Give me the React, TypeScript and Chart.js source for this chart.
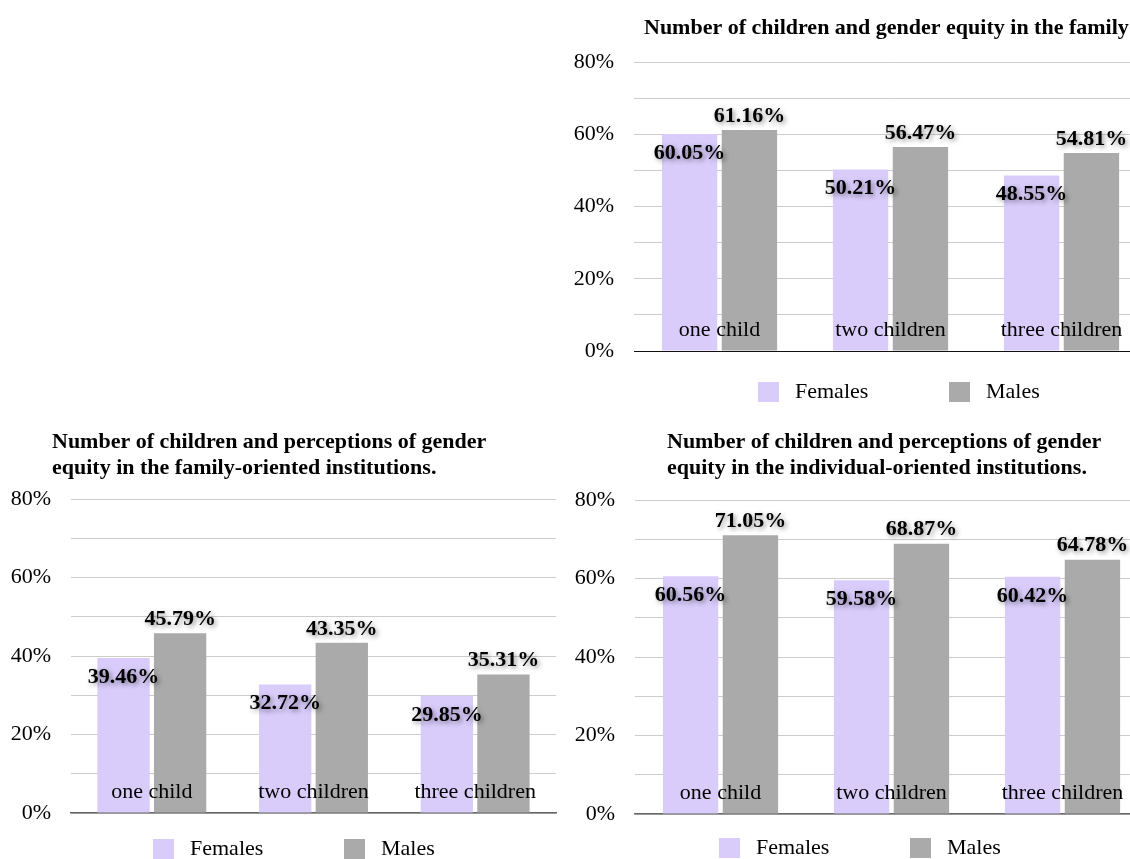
import React, { useEffect, useRef } from "react";
import { Chart, registerables } from "chart.js";

Chart.register(...registerables);

// ---------- data ----------
const categories = ["one child", "two children", "three children"];
const seriesNames = ["Females", "Males"];

const familyFemales = [60.05, 50.21, 48.55];
const familyMales = [61.16, 56.47, 54.81];

const familyInstFemales = [39.46, 32.72, 29.85];
const familyInstMales = [45.79, 43.35, 35.31];

const indivInstFemales = [60.56, 59.58, 60.42];
const indivInstMales = [71.05, 68.87, 64.78];

const yMax = 80;
const yStep = 10;
const yLabelEvery = 20;

const titleFamily = ["Number of children and gender equity in the family"];
const titleFamilyInst = [
  "Number of children and perceptions of gender",
  "equity in the family-oriented institutions.",
];
const titleIndivInst = [
  "Number of children and perceptions of gender",
  "equity in the individual-oriented institutions.",
];

// ---------- style ----------
const FONT = "'Liberation Serif', 'Times New Roman', Times, serif";
const FEMALE_COLOR = "#d9ccfb";
const MALE_COLOR = "#aaaaaa";
const GRID_COLOR = "#cccccc";

type PanelSpec = {
  left: number;
  top: number;
  width: number;
  height: number;
  titleLines: string[];
  titleX: number;
  titleY: number;
  females: number[];
  males: number[];
  axisWidth: number;
  padTop: number;
  padRight: number;
  padBottom: number;
  baseColor: string;
  baseWidth: number;
  legendX: number;
  legendY: number;
};

const decorPlugin = {
  id: "sheetDecor",
  afterDatasetsDraw(chart: any, _args: any, opts: any) {
    const ctx = chart.ctx;
    chart.data.datasets.forEach((ds: any, di: number) => {
      const meta = chart.getDatasetMeta(di);
      meta.data.forEach((bar: any, i: number) => {
        const v = ds.data[i] as number;
        const dy = di === 0 ? opts.insideOffset : -opts.aboveOffset;
        ctx.save();
        ctx.font = `bold 22px ${FONT}`;
        ctx.textAlign = "center";
        ctx.textBaseline = "middle";
        ctx.shadowColor = "rgba(0,0,0,0.45)";
        ctx.shadowBlur = 5;
        ctx.shadowOffsetX = 2;
        ctx.shadowOffsetY = 2;
        ctx.fillStyle = "#000";
        ctx.fillText(v.toFixed(2) + "%", bar.x, bar.y + dy);
        ctx.restore();
      });
    });
  },
  afterDraw(chart: any, _args: any, opts: any) {
    const ctx = chart.ctx;
    ctx.save();
    // title
    ctx.font = `bold 22px ${FONT}`;
    ctx.fillStyle = "#000";
    ctx.textAlign = "left";
    ctx.textBaseline = "middle";
    (opts.titleLines as string[]).forEach((line, i) => {
      ctx.fillText(line, opts.titleX, opts.titleY + i * opts.titleLineGap);
    });
    // legend
    ctx.font = `22px ${FONT}`;
    chart.data.datasets.forEach((ds: any, di: number) => {
      const x = opts.legendX + di * opts.legendGap;
      ctx.fillStyle = ds.backgroundColor;
      ctx.fillRect(x, opts.legendY - 10, 21, 20);
      ctx.fillStyle = "#000";
      ctx.fillText(ds.label, x + 37, opts.legendY);
    });
    ctx.restore();
  },
};

function Panel({ spec }: { spec: PanelSpec }) {
  const ref = useRef<HTMLCanvasElement | null>(null);
  useEffect(() => {
    if (!ref.current) return;
    const chart = new Chart(ref.current, {
      type: "bar",
      data: {
        labels: categories,
        datasets: [
          {
            label: seriesNames[0],
            data: spec.females,
            backgroundColor: FEMALE_COLOR,
            borderWidth: 0,
            categoryPercentage: 0.7,
            barPercentage: 0.925,
          },
          {
            label: seriesNames[1],
            data: spec.males,
            backgroundColor: MALE_COLOR,
            borderWidth: 0,
            categoryPercentage: 0.7,
            barPercentage: 0.925,
          },
        ],
      },
      options: {
        responsive: false,
        animation: false,
        events: [],
        layout: {
          padding: { top: spec.padTop, right: spec.padRight, bottom: spec.padBottom, left: 0 },
        },
        plugins: {
          legend: { display: false },
          title: { display: false },
          tooltip: { enabled: false },
          sheetDecor: {
            titleLines: spec.titleLines,
            titleX: spec.titleX,
            titleY: spec.titleY,
            titleLineGap: 26.6,
            legendX: spec.legendX,
            legendY: spec.legendY,
            legendGap: 191,
            insideOffset: 19,
            aboveOffset: 14,
          },
        } as any,
        scales: {
          x: {
            type: "category",
            grid: { display: false, drawTicks: false },
            border: { display: true, color: spec.baseColor, width: spec.baseWidth },
            ticks: {
              mirror: true,
              padding: 0,
              autoSkip: false,
              maxRotation: 0,
              minRotation: 0,
              color: "#000",
              z: 1,
              font: { family: FONT, size: 22, lineHeight: 42 / 22 },
            },
            afterFit: (s: any) => {
              s.height = 0;
            },
          },
          y: {
            type: "linear",
            min: 0,
            max: yMax,
            grid: { color: GRID_COLOR, lineWidth: 1, drawTicks: false },
            border: { display: false },
            ticks: {
              stepSize: yStep,
              autoSkip: false,
              padding: 20,
              color: "#000",
              font: { family: FONT, size: 22 },
              callback: (v: any) => (Number(v) % yLabelEvery === 0 ? v + "%" : ""),
            },
            afterFit: (s: any) => {
              s.width = spec.axisWidth;
            },
          },
        },
      } as any,
      plugins: [decorPlugin as any],
    });
    return () => chart.destroy();
  }, [spec]);
  return (
    <canvas
      ref={ref}
      width={spec.width}
      height={spec.height}
      style={{ position: "absolute", left: spec.left, top: spec.top, display: "block" }}
    />
  );
}

const panels: PanelSpec[] = [
  {
    left: 560, top: 0, width: 600, height: 420,
    titleLines: titleFamily, titleX: 84, titleY: 28,
    females: familyFemales, males: familyMales,
    axisWidth: 74, padTop: 62, padRight: 13, padBottom: 69,
    baseColor: "#111", baseWidth: 1,
    legendX: 198, legendY: 392,
  },
  {
    left: 0, top: 420, width: 560, height: 439,
    titleLines: titleFamilyInst, titleX: 52, titleY: 22,
    females: familyInstFemales, males: familyInstMales,
    axisWidth: 71, padTop: 79, padRight: 4, padBottom: 46,
    baseColor: "#666", baseWidth: 1.5,
    legendX: 153, legendY: 429,
  },
  {
    left: 560, top: 420, width: 600, height: 439,
    titleLines: titleIndivInst, titleX: 107, titleY: 22,
    females: indivInstFemales, males: indivInstMales,
    axisWidth: 75, padTop: 80, padRight: 12, padBottom: 45,
    baseColor: "#666", baseWidth: 1.5,
    legendX: 159, legendY: 428,
  },
];

export default function App() {
  return (
    <div
      style={{
        position: "absolute",
        left: 0,
        top: 0,
        width: 1130,
        height: 859,
        overflow: "hidden",
        background: "#fff",
      }}
    >
      {panels.map((p, i) => (
        <Panel key={i} spec={p} />
      ))}
    </div>
  );
}
